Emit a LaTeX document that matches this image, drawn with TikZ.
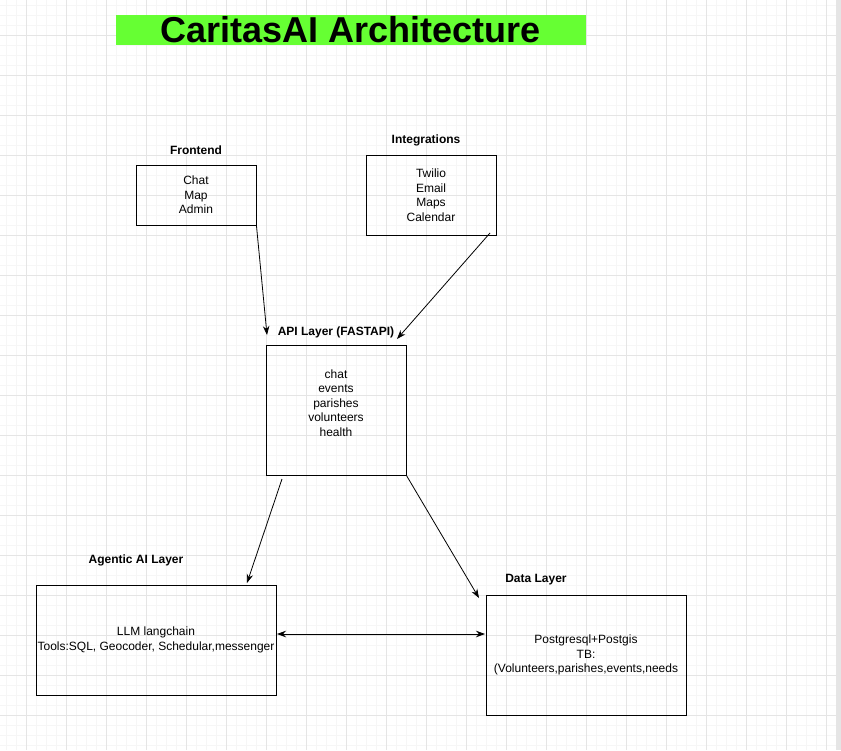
\documentclass[tikz,border=0pt]{standalone}
\usepackage{fontspec}
\setmainfont{Liberation Sans}
\usetikzlibrary{arrows.meta}

\definecolor{titlegreen}{RGB}{102,255,51}
\definecolor{minorgrid}{RGB}{246,246,246}
\definecolor{majorgrid}{RGB}{229,229,229}

\tikzset{
  layerbox/.style 2 args = {draw, line width=0.9pt, minimum width=#1, minimum height=#2,
    align=center, inner sep=0pt, font=\fontsize{12}{14.5}\selectfont},
  layertitle/.style = {font=\fontsize{12}{14}\selectfont\bfseries, inner sep=0pt},
  flow/.style = {line width=0.8pt, -{Stealth[length=9pt, width=6.5pt]}},
  twoway/.style = {line width=0.8pt, {Stealth[length=9pt, width=6.5pt]}-{Stealth[length=9pt, width=6.5pt]}}
}

\begin{document}
\begin{tikzpicture}[x=1pt, y=-1pt]
        \useasboundingbox (0,0) rectangle (841,750);
        \fill[white] (0,0) rectangle (841,750);

        % grid
        \foreach \x in {6,16,...,836} \draw[minorgrid, line width=0.6pt] (\x,0) -- (\x,750);
        \foreach \y in {5,15,...,745} \draw[minorgrid, line width=0.6pt] (0,\y) -- (836,\y);
        \foreach \x in {26,66,...,826} \draw[majorgrid, line width=0.7pt] (\x,0) -- (\x,750);
        \foreach \y in {35,75,...,715} \draw[majorgrid, line width=0.7pt] (0,\y) -- (836,\y);
        \fill[majorgrid] (836,0) rectangle (841,750);

        % title
        \node[fill = titlegreen, minimum width=470, minimum height=30, inner sep=0pt,
          font=\fontsize{36}{36}\selectfont\bfseries] (title) at (351,30) {CaritasAI Architecture};

        % boxes
        \node[layerbox={120}{60}] (front) at (196,195) {Chat\\Map\\Admin};
        \node[layerbox={130}{80}] (integ) at (431,195) {Twilio\\Email\\Maps\\Calendar};
        \node[layerbox={140}{130}] (api) at (336,410) {};
        \node[align=center, inner sep=0pt, font=\fontsize{12}{14.5}\selectfont] (apitext) at (336,403)
          {chat\\events\\parishes\\volunteers\\health};
        \node[layerbox={240}{110}] (agent) at (156,640) {LLM langchain\\Tools:SQL, Geocoder, Schedular,messenger};
        \node[layerbox={200}{120}] (data) at (586,655) {Postgresql+Postgis\\TB:\\(Volunteers,parishes,events,needs};

        % layer titles
        \node[layertitle] (fronttitle) at (196,150) {Frontend};
        \node[layertitle] (integtitle) at (426,140) {Integrations};
        \node[layertitle] (apititle) at (336,332) {API Layer (FASTAPI)};
        \node[layertitle] (agenttitle) at (136,560) {Agentic AI Layer};
        \node[layertitle] (datatitle) at (536,580) {Data Layer};

        % arrow ends
        \coordinate (integout) at (490,233);
        \coordinate (apiinL) at (267,335);
        \coordinate (apiinR) at (397,339);
        \coordinate (apioutL) at (282,479);
        \coordinate (agentin) at (247,583);
        \coordinate (datain) at (479,598);
        \coordinate (agentside) at (277,634);
        \coordinate (dataside) at (485,634);

        \draw[flow] (front.south east) -- (apiinL);
        \draw[flow] (integout) -- (apiinR);
        \draw[flow] (apioutL) -- (agentin);
        \draw[flow] (api.south east) -- (datain);
        \draw[twoway] (agentside) -- (dataside);
    \end{tikzpicture}
\end{document}
